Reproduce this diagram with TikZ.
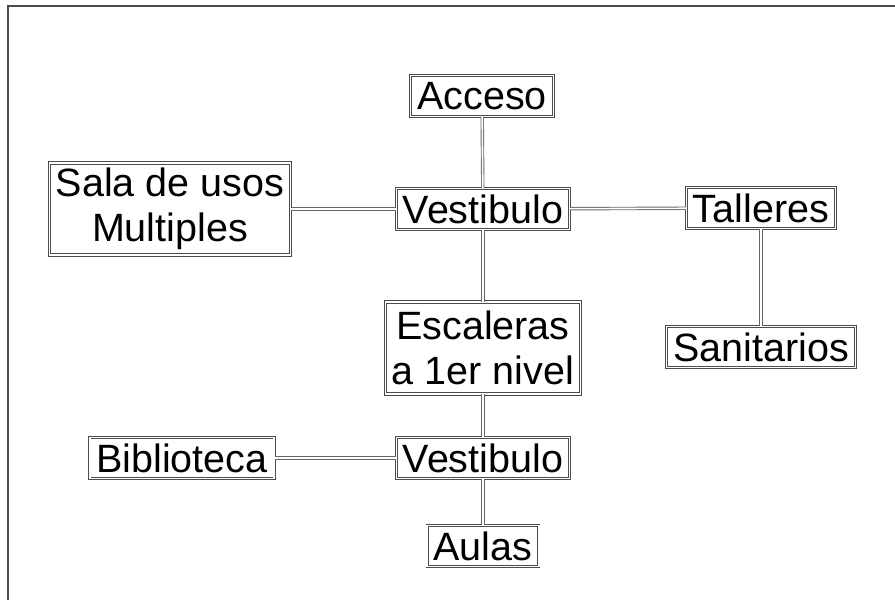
\documentclass[tikz,border=0pt]{standalone}
\usepackage{fontspec}
\setmainfont{Liberation Sans}
\begin{document}
\begin{tikzpicture}[
            x=1pt,
            y=-1pt,
            room/.style={draw=black!70,double=white,double distance=1.3pt,line width=0.9pt,
                font=\fontsize{39.5}{45}\selectfont,align=center,
                inner xsep=6.5pt,inner ysep=0pt,minimum height=41pt},
            tall/.style={minimum height=92pt},
            link/.style={draw=black!60,double=white,double distance=1.6pt,line width=0.9pt}
        ]
            \useasboundingbox (0,0) rectangle (895,600);
            \draw[black!70,line width=1.4pt] (895,6) -- (8,6) -- (8,600);

            \node[room] (acc) at (482,96) {Acceso};
            \node[room] (ves1) at (483,209) {Vestibulo};
            \node[room,tall] (sum) at (170,209) {Sala de usos\\Multiples};
            \node[room] (tal) at (761,208) {Talleres};
            \node[room] (san) at (761,347) {Sanitarios};
            \node[room,tall] (esc) at (483,348) {Escaleras\\a 1er nivel};
            \node[room] (ves2) at (483,458) {Vestibulo};
            \node[room] (bib) at (182,458) {Biblioteca};
            \node[room] (aul) at (483,546) {Aulas};

            \draw[link] (acc) -- (ves1);
            \draw[link] (sum) -- (ves1);
            \draw[link] (ves1) -- (tal);
            \draw[link] (tal) -- (san);
            \draw[link] (ves1) -- (esc);
            \draw[link] (esc) -- (ves2);
            \draw[link] (bib) -- (ves2);
            \draw[link] (ves2) -- (aul);
        \end{tikzpicture}
\end{document}
